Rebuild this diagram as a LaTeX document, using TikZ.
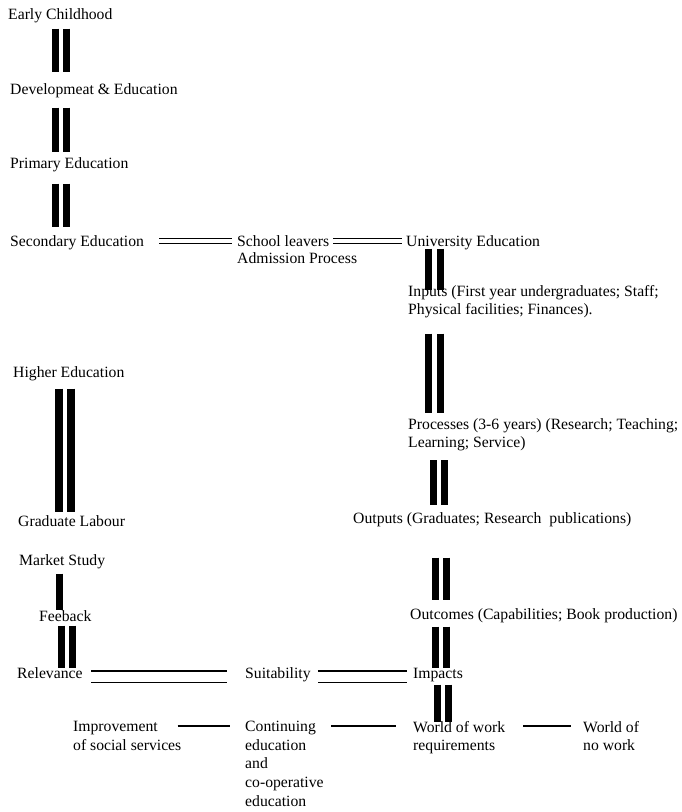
\documentclass[tikz,border=0pt]{standalone}
\usepackage{fontspec}
\setmainfont{Liberation Serif}
\newcommand{\barpair}[7][]{%
  \foreach \s in {-1,1}{%
    \draw[bar,#1,transform canvas={xshift=\s*#5},shorten <=#6,shorten >=#7] (#2 -| #4) -- (#3 -| #4);}%
}
\begin{document}
\begin{tikzpicture}[x=1pt,y=-1pt,
  lbl/.style={inner sep=0pt,anchor=north west,font=\fontsize{15.7}{18.6}\selectfont,align=left,execute at begin node=\strut},
  bar/.style={line width=7pt,line cap=butt,black},
  dbl/.style={double,double distance=3.6pt,line width=1.3pt,line cap=butt},
  dblwide/.style={double,double distance=10.2pt,line width=1.3pt,line cap=butt},
  sgl/.style={line width=1.4pt,line cap=butt}]
\useasboundingbox[fill=white] (0,0) rectangle (682,812);

% column coordinates for the bars
\coordinate (cA) at (61,0);
\coordinate (cB) at (65,0);
\coordinate (cC) at (59.5,0);
\coordinate (cD) at (67,0);
\coordinate (cE) at (434.5,0);
\coordinate (cF) at (439,0);
\coordinate (cG) at (441,0);
\coordinate (cH) at (443,0);

% left column
\node[lbl] (ec)  at (8,6)    {Early Childhood};
\node[lbl] (de)  at (10,81)  {Developmeat \& Education};
\node[lbl] (pe)  at (10,155) {Primary Education};
\node[lbl] (se)  at (10,233) {Secondary Education};
\node[lbl] (he)  at (13,364) {Higher Education};
\node[lbl] (gl)  at (18,513) {Graduate Labour};
\node[lbl] (ms)  at (19,552) {Market Study};
\node[lbl] (fb)  at (39,608) {Feeback};
\node[lbl] (rel) at (17,665) {Relevance};

% middle
\node[lbl] (sl)  at (237,233) {School leavers};
\node[lbl] (ap)  at (237,250) {Admission Process};
\node[lbl] (su)  at (245,665) {Suitability};

% right column
\node[lbl] (ue)  at (406,233) {University Education};
\node[lbl] (in)  at (408,285) {Inputs (First year undergraduates; Staff;\\Physical facilities; Finances).\strut};
\node[lbl] (pr)  at (408,418) {Processes (3-6 years) (Research; Teaching;\\Learning; Service)\strut};
\node[lbl] (op)  at (353,510) {Outputs (Graduates; Research\hspace{0.5em}publications)};
\node[lbl] (oc)  at (410,606) {Outcomes (Capabilities; Book production)};
\node[lbl] (im)  at (413,665) {Impacts};

% bottom row
\node[lbl] (ims) at (73,721)  {Improvement\\of social services\strut};
\node[lbl] (co)  at (245,721) {Continuing\\education\\and\\co-operative\\education\strut};
\node[lbl] (ww)  at (413,721) {World of work\\requirements\strut};
\node[lbl] (wn)  at (583,721) {World of\\no work\strut};

% vertical bars
\barpair{ec.south}{de.north}{cA}{5.5pt}{3.5pt}{9pt}
\barpair{de.south}{pe.north}{cA}{5.5pt}{7.5pt}{3pt}
\barpair{pe.south}{se.north}{cA}{5.5pt}{9.5pt}{6pt}
\barpair[line width=8pt]{he.south}{gl.north}{cB}{6pt}{5.5pt}{1pt}
\draw[bar,shorten <=2.5pt,shorten >=-2pt] (ms.south -| cC) -- (fb.north -| cC);
\barpair{fb.south}{rel.north}{cD}{5.75pt}{-1.5pt}{-3pt}

\barpair{ue.south}{in.north}{cE}{6pt}{-3.5pt}{-5pt}
\barpair{in.south}{pr.north}{cE}{6pt}{13pt}{5pt}
\barpair{pr.south}{op.north}{cF}{5.5pt}{7pt}{5pt}
\barpair{op.south}{oc.north}{cG}{5.5pt}{28.5pt}{6pt}
\barpair{oc.south}{im.north}{cG}{5.5pt}{1.5pt}{-3pt}
\barpair{im.south}{ww.north}{cH}{5.5pt}{0.5pt}{-1pt}

% horizontal double lines
\draw[dbl,transform canvas={yshift=1.8pt},shorten <=15pt,shorten >=5pt] (se.east) -- (sl.west);
\draw[dbl,transform canvas={yshift=1.8pt},shorten <=4pt,shorten >=4pt] (sl.east) -- (ue.west);
\draw[dblwide,transform canvas={yshift=-2.2pt},shorten <=8.5pt,shorten >=18pt] (rel.east) -- (su.west);
\draw[dblwide,transform canvas={yshift=-2.2pt},shorten <=7pt,shorten >=6pt] (su.east) -- (im.west);

% horizontal single lines
\draw[sgl,transform canvas={yshift=-5pt},shorten <=-4pt,shorten >=15pt] (ims.north east) -- (co.north west);
\draw[sgl,transform canvas={yshift=-5pt},shorten <=7.5pt,shorten >=17pt] (co.north east) -- (ww.north west);
\draw[sgl,transform canvas={yshift=-5pt},shorten <=18pt,shorten >=12pt] (ww.north east) -- (wn.north west);
\end{tikzpicture}
\end{document}
